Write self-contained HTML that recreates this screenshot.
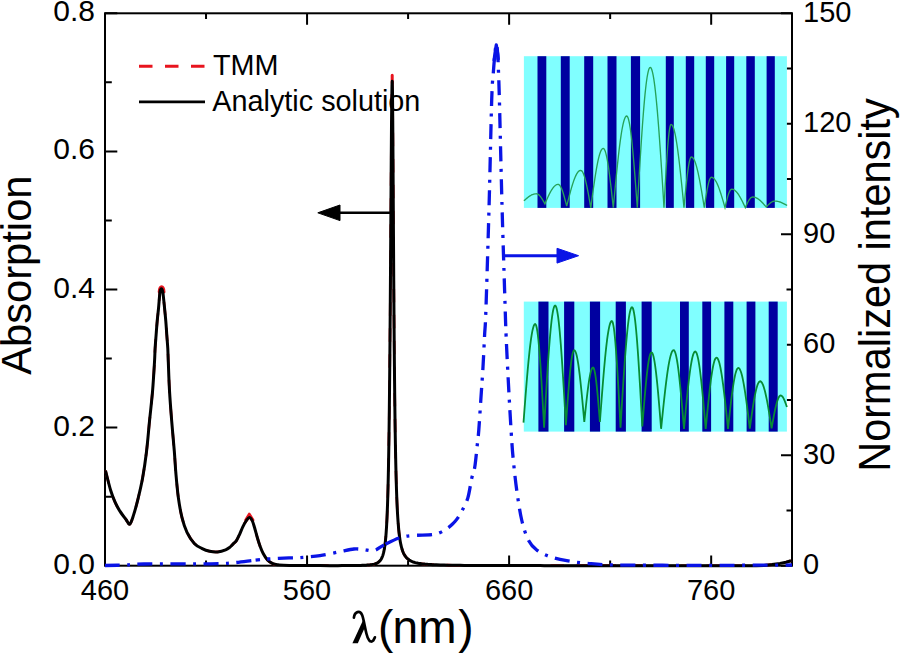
<!DOCTYPE html>
<html><head><meta charset="utf-8"><style>
html,body{margin:0;padding:0;background:#fff;}
body{width:900px;height:654px;overflow:hidden;}
svg{display:block;}
text{font-family:"Liberation Sans",sans-serif;fill:#000;}
</style></head><body>
<svg width="900" height="654" viewBox="0 0 900 654">
<rect width="900" height="654" fill="#fff"/>
<!-- frame -->
<rect x="105" y="13.3" width="687" height="552.4" fill="none" stroke="#000" stroke-width="2"/>
<path d="M105,565.7 V555.4 M105,13.3 V24.8 M206.03,565.7 V560.5 M206.03,13.3 V18.9 M307.06,565.7 V555.4 M307.06,13.3 V24.8 M408.09,565.7 V560.5 M408.09,13.3 V18.9 M509.12,565.7 V555.4 M509.12,13.3 V24.8 M610.15,565.7 V560.5 M610.15,13.3 V18.9 M711.18,565.7 V555.4 M711.18,13.3 V24.8 M105,565.7 H117.3 M105,496.65 H111.8 M105,427.6 H117.3 M105,358.55 H111.8 M105,289.5 H117.3 M105,220.45 H111.8 M105,151.4 H117.3 M105,82.35 H111.8 M105,13.3 H117.3 M792,565.7 H781 M792,510.46 H786.5 M792,455.22 H781 M792,399.98 H786.5 M792,344.74 H781 M792,289.5 H786.5 M792,234.26 H781 M792,179.02 H786.5 M792,123.78 H781 M792,68.54 H786.5 M792,13.3 H781" stroke="#000" stroke-width="2" fill="none"/>
<!-- curves -->
<path d="M105.5,470.6C106.37,473.92 109.07,485.15 110.7,490.5C112.33,495.85 113.77,499.27 115.3,502.7C116.83,506.13 118.12,508.3 119.9,511.1C121.68,513.9 124.35,517.33 126,519.5C127.65,521.67 128.53,524.87 129.8,524.1C131.07,523.33 132.2,519.23 133.6,514.9C135,510.57 136.7,504.25 138.2,498.1C139.7,491.95 141.22,485.73 142.6,478C143.98,470.27 145.35,461.17 146.5,451.7C147.65,442.23 148.48,431.38 149.5,421.2C150.52,411.02 151.77,400.47 152.6,390.6C153.43,380.73 154.08,368.98 154.5,362C154.92,355.02 154.83,353.2 155.1,348.7C155.37,344.2 155.75,339.58 156.1,335C156.45,330.42 156.78,325.78 157.2,321.2C157.62,316.62 158.15,312.28 158.6,307.5C159.05,302.72 159.52,295.55 159.9,292.5C160.28,289.45 160.57,289.75 160.9,289.2C161.23,288.65 161.57,288.65 161.9,289.2C162.23,289.75 162.47,289.45 162.9,292.5C163.33,295.55 164.02,302.72 164.5,307.5C164.98,312.28 165.42,316.62 165.8,321.2C166.18,325.78 166.47,330.42 166.8,335C167.13,339.58 167.55,344.2 167.8,348.7C168.05,353.2 168.02,355.02 168.3,362C168.58,368.98 168.93,380.73 169.5,390.6C170.07,400.47 170.9,411.13 171.7,421.2C172.5,431.27 173.6,442.28 174.3,451C175,459.72 175.22,465.67 175.9,473.5C176.58,481.33 177.38,490.65 178.4,498C179.42,505.35 180.57,511.87 182,517.6C183.43,523.33 184.95,528.1 187,532.4C189.05,536.7 191.85,540.75 194.3,543.4C196.75,546.05 199.13,546.98 201.7,548.3C204.27,549.62 207.03,550.7 209.7,551.3C212.37,551.9 215.05,552.13 217.7,551.9C220.35,551.67 223.55,550.7 225.6,549.9C227.65,549.1 228.73,548.1 230,547.1C231.27,546.1 232.13,544.97 233.2,543.9C234.27,542.83 235.33,542.3 236.4,540.7C237.47,539.1 238.53,536.62 239.6,534.3C240.67,531.98 241.72,529.02 242.8,526.8C243.88,524.58 245.02,522.53 246.1,521C247.18,519.47 248.28,517.67 249.3,517.6C250.32,517.53 251.32,518.9 252.2,520.6C253.08,522.3 253.75,524.98 254.6,527.8C255.45,530.62 256.4,534.47 257.3,537.5C258.2,540.53 259.02,543.33 260,546C260.98,548.67 261.95,551.17 263.2,553.5C264.45,555.83 265.9,558.3 267.5,560C269.1,561.7 271.02,562.9 272.8,563.7C274.58,564.5 275.47,564.52 278.2,564.8C280.93,565.08 282.23,565.27 289.2,565.4C296.17,565.53 314.87,565.57 320,565.6 L330,565.66 L334,565.65 L338,565.64 L342,565.62 L346,565.6 L350,565.57 L354,565.53 L355,565.51 L356,565.5 L357,565.48 L358,565.46 L359,565.44 L360,565.41 L361,565.39 L362,565.35 L363,565.32 L364,565.28 L365,565.23 L366,565.17 L367,565.11 L368,565.03 L369,564.94 L370,564.84 L371,564.71 L372,564.56 L373,564.38 L374,564.15 L375,563.87 L376,563.52 L377,563.08 L378,562.51 L379,561.76 L380,560.76 L381,559.39 L381.25,558.98 L381.5,558.53 L381.75,558.03 L382,557.49 L382.25,556.9 L382.5,556.26 L382.75,555.55 L383,554.76 L383.25,553.9 L383.5,552.95 L383.75,551.89 L384,550.72 L384.25,549.42 L384.5,547.96 L384.75,546.34 L385,544.51 L385.25,542.46 L385.5,540.14 L385.75,537.53 L386,534.56 L386.25,531.18 L386.5,527.33 L386.75,522.92 L387,517.85 L387.25,512.02 L387.5,505.29 L387.75,497.49 L388,488.45 L388.25,477.93 L388.5,465.69 L388.75,451.44 L389,434.86 L389.25,415.62 L389.5,393.37 L389.75,367.84 L390,338.86 L390.25,306.46 L390.5,271.03 L390.75,233.43 L391,195.14 L391.25,158.32 L391.5,125.73 L391.75,100.35 L392,84.9 L392.25,81.32 L392.5,93.39 L392.75,120.33 L393,157.33 L393.25,199.07 L393.5,241.2 L393.75,280.89 L394,316.7 L394.25,348.13 L394.5,375.28 L394.75,398.55 L395,418.4 L395.25,435.33 L395.5,449.79 L395.75,462.17 L396,472.82 L396.25,482.02 L396.5,489.99 L396.75,496.93 L397,503.01 L397.25,508.35 L397.5,513.05 L397.75,517.23 L398,520.94 L398.25,524.25 L398.5,527.22 L398.75,529.89 L399,532.29 L399.25,534.47 L399.5,536.45 L399.75,538.24 L400,539.88 L400.25,541.38 L400.5,542.76 L400.75,544.02 L401,545.18 L401.25,546.26 L401.5,547.25 L401.75,548.17 L402,549.02 L402.25,549.81 L402.5,550.55 L402.75,551.24 L403,551.88 L403.25,552.48 L403.5,553.05 L403.75,553.58 L404,554.07 L404.25,554.54 L405.25,556.15 L406.25,557.44 L407.25,558.48 L408.25,559.34 L409.25,560.06 L410.25,560.66 L411.25,561.17 L412.25,561.61 L413.25,561.98 L414.25,562.31 L415.25,562.6 L416.25,562.85 L417.25,563.07 L418.25,563.27 L419.25,563.44 L420.25,563.6 L421.25,563.74 L422.25,563.87 L423.25,563.99 L424.25,564.09 L425.25,564.19 L426.25,564.27 L427.25,564.35 L428.25,564.43 L429.25,564.49 L430.25,564.56 L431.25,564.61 L432.25,564.67 L436.25,564.85 L440.25,564.98 L444.25,565.09 L448.25,565.17 L452.25,565.24 L456.25,565.3 L460.25,565.34 L464.25,565.38 L468.25,565.41 L472.25,565.44 L476.25,565.47 L480.25,565.49 L484.25,565.5 L488.25,565.52 L492.25,565.53 L496.25,565.55 L500.25,565.56 L504.25,565.57 L508.25,565.58 L512.25,565.58 L516.25,565.59 L520.25,565.6 L524.25,565.6 L528.25,565.61 L532.25,565.62 L536.25,565.62 L540.25,565.62 L544.25,565.63 L548.25,565.63 L552.25,565.64 L556.25,565.64 L560.25,565.64 L564.25,565.64 L568.25,565.65 L572.25,565.65 L576.25,565.65 L580.25,565.65 L584.25,565.66 L588.25,565.66 L592.25,565.66 L596.25,565.66 L600.25,565.66 L604.25,565.66 L608.25,565.66 L612.25,565.67 L616.25,565.67 L620.25,565.67 L624.25,565.67 L628.25,565.67 L632.25,565.67 L636.25,565.67 L640.25,565.67 L644.25,565.67 L648.25,565.67 L652.25,565.68 L656.25,565.68 L660.25,565.68 L664.25,565.68 L668.25,565.68 L672.25,565.68 L676.25,565.68 L680.25,565.68 L684.25,565.68 L688.25,565.68 L692.25,565.68 L696.25,565.68 L700.25,565.68 L704.25,565.68 L708.25,565.68 L712.25,565.68 L716.25,565.68 L720.25,565.68 L724.25,565.68 L728.25,565.69 L732.25,565.69 L736.25,565.69 L740.25,565.69 L744.25,565.69 L748.25,565.69 L752.25,565.69 L756.25,565.69 L764,565.4 L772,564.6 L780,563.4 L786,562.2 L791,560.8" fill="none" stroke="#e8141e" stroke-width="2.6" stroke-dasharray="13.5 12.5"/>
<path d="M392.2,75.3 V83 M159.2,292 C159.6,285 163.6,285 164,292 M245.8,520 L249.3,514.2 L252.9,520" fill="none" stroke="#e8141e" stroke-width="3" stroke-linecap="round" stroke-linejoin="round"/>
<path d="M105.5,470.6C106.37,473.92 109.07,485.15 110.7,490.5C112.33,495.85 113.77,499.27 115.3,502.7C116.83,506.13 118.12,508.3 119.9,511.1C121.68,513.9 124.35,517.33 126,519.5C127.65,521.67 128.53,524.87 129.8,524.1C131.07,523.33 132.2,519.23 133.6,514.9C135,510.57 136.7,504.25 138.2,498.1C139.7,491.95 141.22,485.73 142.6,478C143.98,470.27 145.35,461.17 146.5,451.7C147.65,442.23 148.48,431.38 149.5,421.2C150.52,411.02 151.77,400.47 152.6,390.6C153.43,380.73 154.08,368.98 154.5,362C154.92,355.02 154.83,353.2 155.1,348.7C155.37,344.2 155.75,339.58 156.1,335C156.45,330.42 156.78,325.78 157.2,321.2C157.62,316.62 158.15,312.28 158.6,307.5C159.05,302.72 159.52,295.55 159.9,292.5C160.28,289.45 160.57,289.75 160.9,289.2C161.23,288.65 161.57,288.65 161.9,289.2C162.23,289.75 162.47,289.45 162.9,292.5C163.33,295.55 164.02,302.72 164.5,307.5C164.98,312.28 165.42,316.62 165.8,321.2C166.18,325.78 166.47,330.42 166.8,335C167.13,339.58 167.55,344.2 167.8,348.7C168.05,353.2 168.02,355.02 168.3,362C168.58,368.98 168.93,380.73 169.5,390.6C170.07,400.47 170.9,411.13 171.7,421.2C172.5,431.27 173.6,442.28 174.3,451C175,459.72 175.22,465.67 175.9,473.5C176.58,481.33 177.38,490.65 178.4,498C179.42,505.35 180.57,511.87 182,517.6C183.43,523.33 184.95,528.1 187,532.4C189.05,536.7 191.85,540.75 194.3,543.4C196.75,546.05 199.13,546.98 201.7,548.3C204.27,549.62 207.03,550.7 209.7,551.3C212.37,551.9 215.05,552.13 217.7,551.9C220.35,551.67 223.55,550.7 225.6,549.9C227.65,549.1 228.73,548.1 230,547.1C231.27,546.1 232.13,544.97 233.2,543.9C234.27,542.83 235.33,542.3 236.4,540.7C237.47,539.1 238.53,536.62 239.6,534.3C240.67,531.98 241.72,529.02 242.8,526.8C243.88,524.58 245.02,522.53 246.1,521C247.18,519.47 248.28,517.67 249.3,517.6C250.32,517.53 251.32,518.9 252.2,520.6C253.08,522.3 253.75,524.98 254.6,527.8C255.45,530.62 256.4,534.47 257.3,537.5C258.2,540.53 259.02,543.33 260,546C260.98,548.67 261.95,551.17 263.2,553.5C264.45,555.83 265.9,558.3 267.5,560C269.1,561.7 271.02,562.9 272.8,563.7C274.58,564.5 275.47,564.52 278.2,564.8C280.93,565.08 282.23,565.27 289.2,565.4C296.17,565.53 314.87,565.57 320,565.6 L330,565.66 L334,565.65 L338,565.64 L342,565.62 L346,565.6 L350,565.57 L354,565.53 L355,565.51 L356,565.5 L357,565.48 L358,565.46 L359,565.44 L360,565.41 L361,565.39 L362,565.35 L363,565.32 L364,565.28 L365,565.23 L366,565.17 L367,565.11 L368,565.03 L369,564.94 L370,564.84 L371,564.71 L372,564.56 L373,564.38 L374,564.15 L375,563.87 L376,563.52 L377,563.08 L378,562.51 L379,561.76 L380,560.76 L381,559.39 L381.25,558.98 L381.5,558.53 L381.75,558.03 L382,557.49 L382.25,556.9 L382.5,556.26 L382.75,555.55 L383,554.76 L383.25,553.9 L383.5,552.95 L383.75,551.89 L384,550.72 L384.25,549.42 L384.5,547.96 L384.75,546.34 L385,544.51 L385.25,542.46 L385.5,540.14 L385.75,537.53 L386,534.56 L386.25,531.18 L386.5,527.33 L386.75,522.92 L387,517.85 L387.25,512.02 L387.5,505.29 L387.75,497.49 L388,488.45 L388.25,477.93 L388.5,465.69 L388.75,451.44 L389,434.86 L389.25,415.62 L389.5,393.37 L389.75,367.84 L390,338.86 L390.25,306.46 L390.5,271.03 L390.75,233.43 L391,195.14 L391.25,158.32 L391.5,125.73 L391.75,100.35 L392,84.9 L392.25,81.32 L392.5,93.39 L392.75,120.33 L393,157.33 L393.25,199.07 L393.5,241.2 L393.75,280.89 L394,316.7 L394.25,348.13 L394.5,375.28 L394.75,398.55 L395,418.4 L395.25,435.33 L395.5,449.79 L395.75,462.17 L396,472.82 L396.25,482.02 L396.5,489.99 L396.75,496.93 L397,503.01 L397.25,508.35 L397.5,513.05 L397.75,517.23 L398,520.94 L398.25,524.25 L398.5,527.22 L398.75,529.89 L399,532.29 L399.25,534.47 L399.5,536.45 L399.75,538.24 L400,539.88 L400.25,541.38 L400.5,542.76 L400.75,544.02 L401,545.18 L401.25,546.26 L401.5,547.25 L401.75,548.17 L402,549.02 L402.25,549.81 L402.5,550.55 L402.75,551.24 L403,551.88 L403.25,552.48 L403.5,553.05 L403.75,553.58 L404,554.07 L404.25,554.54 L405.25,556.15 L406.25,557.44 L407.25,558.48 L408.25,559.34 L409.25,560.06 L410.25,560.66 L411.25,561.17 L412.25,561.61 L413.25,561.98 L414.25,562.31 L415.25,562.6 L416.25,562.85 L417.25,563.07 L418.25,563.27 L419.25,563.44 L420.25,563.6 L421.25,563.74 L422.25,563.87 L423.25,563.99 L424.25,564.09 L425.25,564.19 L426.25,564.27 L427.25,564.35 L428.25,564.43 L429.25,564.49 L430.25,564.56 L431.25,564.61 L432.25,564.67 L436.25,564.85 L440.25,564.98 L444.25,565.09 L448.25,565.17 L452.25,565.24 L456.25,565.3 L460.25,565.34 L464.25,565.38 L468.25,565.41 L472.25,565.44 L476.25,565.47 L480.25,565.49 L484.25,565.5 L488.25,565.52 L492.25,565.53 L496.25,565.55 L500.25,565.56 L504.25,565.57 L508.25,565.58 L512.25,565.58 L516.25,565.59 L520.25,565.6 L524.25,565.6 L528.25,565.61 L532.25,565.62 L536.25,565.62 L540.25,565.62 L544.25,565.63 L548.25,565.63 L552.25,565.64 L556.25,565.64 L560.25,565.64 L564.25,565.64 L568.25,565.65 L572.25,565.65 L576.25,565.65 L580.25,565.65 L584.25,565.66 L588.25,565.66 L592.25,565.66 L596.25,565.66 L600.25,565.66 L604.25,565.66 L608.25,565.66 L612.25,565.67 L616.25,565.67 L620.25,565.67 L624.25,565.67 L628.25,565.67 L632.25,565.67 L636.25,565.67 L640.25,565.67 L644.25,565.67 L648.25,565.67 L652.25,565.68 L656.25,565.68 L660.25,565.68 L664.25,565.68 L668.25,565.68 L672.25,565.68 L676.25,565.68 L680.25,565.68 L684.25,565.68 L688.25,565.68 L692.25,565.68 L696.25,565.68 L700.25,565.68 L704.25,565.68 L708.25,565.68 L712.25,565.68 L716.25,565.68 L720.25,565.68 L724.25,565.68 L728.25,565.69 L732.25,565.69 L736.25,565.69 L740.25,565.69 L744.25,565.69 L748.25,565.69 L752.25,565.69 L756.25,565.69 L764,565.4 L772,564.6 L780,563.4 L786,562.2 L791,560.8" fill="none" stroke="#000" stroke-width="3" stroke-linejoin="round"/>
<path d="M105,565.5C108.33,565.42 118.5,565.25 125,565C131.5,564.75 129.67,564.2 144,564C158.33,563.8 196.17,564 211,563.8C225.83,563.6 225.57,563.42 233,562.8C240.43,562.18 249.43,560.77 255.6,560.1" fill="none" stroke="#0a14e6" stroke-width="3.3" stroke-dasharray="15 7.5 3 7.5" stroke-dashoffset="0.5"/>
<path d="M255.6,560.1C261.77,559.43 264.43,559.17 270,558.8C275.57,558.43 284,558.1 289,557.9C294,557.7 294.83,557.98 300,557.6C305.17,557.22 313.33,556.6 320,555.6C326.67,554.6 334.33,552.7 340,551.6C345.67,550.5 350,549.33 354,549C358,548.67 360.67,549.33 364,549.6C367.33,549.87 370.67,551.37 374,550.6C377.33,549.83 379.83,547.1 384,545" fill="none" stroke="#0a14e6" stroke-width="3.3" stroke-dasharray="15 7.5 3 7.5" stroke-dashoffset="10.6"/>
<path d="M384,545C388.17,542.9 394.33,539.57 399,538C403.67,536.43 406.52,536.17 412,535.6C417.48,535.03 427.18,535.12 431.9,534.6C436.62,534.08 437.63,533.62 440.3,532.5C442.97,531.38 445.82,529.35 447.9,527.9C449.98,526.45 451.27,525.3 452.8,523.8C454.33,522.3 455.5,521.18 457.1,518.9C458.7,516.62 460.6,513.63 462.4,510.1C464.2,506.57 466.35,502.97 467.9,497.7C469.45,492.43 470.57,483.53 471.7,478.5C472.83,473.47 473.78,473 474.7,467.5C475.62,462 476.52,451.75 477.2,445.5C477.88,439.25 478.17,438.08 478.8,430C479.43,421.92 480.3,407.5 481,397C481.7,386.5 482.4,377.33 483,367C483.6,356.67 484.12,344.5 484.6,335C485.08,325.5 485.15,331.67 485.9,310C486.65,288.33 488.13,240 489.1,205C490.07,170 491,122 491.7,100C492.4,78 492.77,80.67 493.3,73C493.83,65.33 494.4,58.83 494.9,54C495.4,49.17 495.83,44 496.3,44C496.77,44 497.32,48.83 497.7,54C498.08,59.17 498.32,67.33 498.6,75C498.88,82.67 498.83,78.33 499.4,100C499.97,121.67 501.13,173.33 502,205C502.87,236.67 503.9,267.83 504.6,290C505.3,312.17 505.45,320.33 506.2,338C506.95,355.67 508.18,379 509.1,396C510.02,413 511,429.33 511.7,440C512.4,450.67 512.47,451.67 513.3,460C514.13,468.33 515.3,480 516.7,490C518.1,500 519.77,511.67 521.7,520C523.63,528.33 525.8,535 528.3,540C530.8,545 533.08,547.22 536.7,550C540.32,552.78 545,554.92 550,556.7C555,558.48 560.58,559.6 566.7,560.7C572.82,561.8 578.37,562.58 586.7,563.3C595.03,564.02 597.82,564.67 616.7,565C635.58,565.33 676.12,565.27 700,565.3C723.88,565.33 744.67,565.25 760,565.2C775.33,565.15 786.67,565.03 792,565" fill="none" stroke="#0a14e6" stroke-width="3.3" stroke-dasharray="15 7.5 3 7.5" stroke-dashoffset="31.14"/>
<path d="M494,61 L494.9,54 L496.3,45 L497.7,54 L498.3,60" fill="none" stroke="#0a14e6" stroke-width="3.3" stroke-linejoin="round"/>
<!-- arrows -->
<path d="M339,212.8 H391" stroke="#000" stroke-width="2.6"/>
<path d="M317.8,212.8 L340,205 L340,220.6 Z" fill="#000" stroke="#000" stroke-width="1" stroke-linejoin="round"/>
<path d="M502.2,255.7 H558" stroke="#0a14e6" stroke-width="3"/>
<path d="M578.6,255.7 L557,248.3 L557,263.1 Z" fill="#0a14e6" stroke="#0a14e6" stroke-width="1" stroke-linejoin="round"/>
<!-- insets -->
<rect x="523.9" y="56.2" width="263" height="151.7" fill="#80ffff"/>
<g fill="#0000a0"><rect x="537.5" y="56.2" width="8.8" height="151.7"/><rect x="560.8" y="56.2" width="8.9" height="151.7"/><rect x="584.2" y="56.2" width="9" height="151.7"/><rect x="607.5" y="56.2" width="9" height="151.7"/><rect x="630.9" y="56.2" width="9.2" height="151.7"/><rect x="665.8" y="56.2" width="8" height="151.7"/><rect x="685.8" y="56.2" width="8.4" height="151.7"/><rect x="705.8" y="56.2" width="8.4" height="151.7"/><rect x="726.1" y="56.2" width="8.1" height="151.7"/><rect x="746.3" y="56.2" width="8.5" height="151.7"/><rect x="766.6" y="56.2" width="8.2" height="151.7"/></g>
<path d="M523.9,200.8 L524.42,200.34 L524.93,199.89 L525.45,199.43 L525.97,198.99 L526.48,198.55 L527,198.12 L527.52,197.7 L528.03,197.3 L528.55,196.91 L529.07,196.54 L529.58,196.18 L530.1,195.85 L530.62,195.54 L531.13,195.25 L531.65,194.98 L532.17,194.74 L532.68,194.52 L533.2,194.33 L533.72,194.17 L534.23,194.04 L534.75,193.93 L535.27,193.86 L535.78,193.81 L536.3,193.8 L536.81,193.84 L537.31,193.97 L537.82,194.19 L538.32,194.48 L538.83,194.86 L539.34,195.31 L539.84,195.84 L540.35,196.44 L540.85,197.1 L541.36,197.81 L541.86,198.58 L542.37,199.4 L542.88,200.25 L543.38,201.14 L543.89,202.04 L544.39,202.97 L544.9,203.9 L545.41,202.72 L545.92,201.55 L546.42,200.39 L546.93,199.23 L547.44,198.1 L547.95,196.99 L548.45,195.9 L548.96,194.84 L549.47,193.81 L549.98,192.82 L550.48,191.87 L550.99,190.97 L551.5,190.11 L552.01,189.3 L552.52,188.55 L553.02,187.85 L553.53,187.21 L554.04,186.63 L554.55,186.12 L555.05,185.67 L555.56,185.28 L556.07,184.97 L556.58,184.72 L557.08,184.54 L557.59,184.44 L558.1,184.4 L558.61,184.49 L559.11,184.77 L559.62,185.23 L560.12,185.87 L560.63,186.69 L561.14,187.67 L561.64,188.8 L562.15,190.09 L562.65,191.51 L563.16,193.06 L563.66,194.72 L564.17,196.48 L564.68,198.32 L565.18,200.23 L565.69,202.19 L566.19,204.19 L566.7,206.2 L567.2,204.19 L567.7,202.19 L568.2,200.2 L568.7,198.23 L569.2,196.29 L569.7,194.38 L570.2,192.5 L570.7,190.67 L571.2,188.88 L571.7,187.15 L572.2,185.48 L572.7,183.88 L573.2,182.34 L573.7,180.89 L574.2,179.51 L574.7,178.21 L575.2,177 L575.7,175.89 L576.2,174.87 L576.7,173.95 L577.2,173.13 L577.7,172.41 L578.2,171.8 L578.7,171.3 L579.2,170.91 L579.7,170.63 L580.2,170.46 L580.7,170.4 L581.21,170.52 L581.71,170.86 L582.22,171.43 L582.72,172.23 L583.23,173.25 L583.73,174.48 L584.24,175.91 L584.74,177.54 L585.25,179.36 L585.75,181.35 L586.25,183.51 L586.76,185.82 L587.26,188.26 L587.77,190.82 L588.27,193.49 L588.78,196.24 L589.28,199.07 L589.79,201.95 L590.29,204.87 L590.8,207.8 L591.32,203.92 L591.83,200.05 L592.35,196.21 L592.87,192.43 L593.38,188.71 L593.9,185.07 L594.42,181.53 L594.93,178.1 L595.45,174.8 L595.97,171.64 L596.48,168.63 L597,165.8 L597.52,163.14 L598.03,160.67 L598.55,158.41 L599.07,156.36 L599.58,154.53 L600.1,152.92 L600.62,151.55 L601.13,150.42 L601.65,149.54 L602.17,148.91 L602.68,148.53 L603.2,148.4 L603.71,148.58 L604.21,149.13 L604.72,150.04 L605.22,151.31 L605.73,152.92 L606.23,154.87 L606.74,157.15 L607.24,159.74 L607.75,162.63 L608.25,165.8 L608.75,169.22 L609.26,172.89 L609.76,176.76 L610.27,180.83 L610.77,185.07 L611.28,189.44 L611.78,193.93 L612.29,198.51 L612.79,203.14 L613.3,207.8 L613.82,202.26 L614.33,196.73 L614.85,191.25 L615.36,185.83 L615.88,180.49 L616.39,175.25 L616.91,170.12 L617.42,165.14 L617.94,160.31 L618.45,155.65 L618.97,151.19 L619.48,146.93 L620,142.89 L620.52,139.09 L621.03,135.54 L621.55,132.25 L622.06,129.24 L622.58,126.52 L623.09,124.09 L623.61,121.97 L624.12,120.16 L624.64,118.67 L625.15,117.5 L625.67,116.67 L626.18,116.17 L626.7,116 L627.2,116.26 L627.71,117.02 L628.21,118.3 L628.72,120.07 L629.22,122.33 L629.73,125.07 L630.23,128.27 L630.74,131.92 L631.24,135.98 L631.75,140.45 L632.25,145.3 L632.76,150.49 L633.26,156 L633.77,161.8 L634.27,167.86 L634.78,174.13 L635.28,180.6 L635.79,187.22 L636.29,193.95 L636.8,200.75 L637.3,207.6 L637.82,198.8 L638.33,190.03 L638.85,181.33 L639.36,172.73 L639.88,164.28 L640.4,155.99 L640.91,147.91 L641.43,140.06 L641.94,132.48 L642.46,125.19 L642.98,118.23 L643.49,111.63 L644.01,105.4 L644.52,99.57 L645.04,94.18 L645.56,89.23 L646.07,84.74 L646.59,80.74 L647.1,77.25 L647.62,74.26 L648.14,71.8 L648.65,69.88 L649.17,68.51 L649.68,67.68 L650.2,67.4 L650.71,67.64 L651.22,68.35 L651.73,69.53 L652.24,71.18 L652.76,73.29 L653.27,75.86 L653.78,78.87 L654.29,82.31 L654.8,86.18 L655.31,90.46 L655.82,95.14 L656.33,100.2 L656.84,105.62 L657.36,111.39 L657.87,117.48 L658.38,123.88 L658.89,130.56 L659.4,137.5 L659.91,144.68 L660.42,152.07 L660.93,159.65 L661.44,167.39 L661.96,175.27 L662.47,183.25 L662.98,191.32 L663.49,199.45 L664,207.6 L664.51,198.28 L665.01,189.09 L665.52,180.12 L666.03,171.5 L666.54,163.33 L667.04,155.73 L667.55,148.77 L668.06,142.55 L668.56,137.15 L669.07,132.64 L669.58,129.07 L670.09,126.49 L670.59,124.92 L671.1,124.4 L671.62,124.56 L672.13,125.06 L672.65,125.87 L673.16,127.01 L673.68,128.47 L674.2,130.24 L674.71,132.32 L675.23,134.69 L675.74,137.35 L676.26,140.29 L676.78,143.49 L677.29,146.95 L677.81,150.65 L678.32,154.57 L678.84,158.7 L679.36,163.02 L679.87,167.52 L680.39,172.18 L680.9,176.97 L681.42,181.89 L681.94,186.91 L682.45,192.01 L682.97,197.17 L683.48,202.38 L684,207.6 L684.53,201.93 L685.06,196.34 L685.59,190.89 L686.11,185.65 L686.64,180.68 L687.17,176.05 L687.7,171.82 L688.23,168.04 L688.76,164.76 L689.29,162.01 L689.81,159.84 L690.34,158.27 L690.87,157.32 L691.4,157 L691.92,157.1 L692.43,157.4 L692.95,157.9 L693.46,158.59 L693.98,159.48 L694.5,160.55 L695.01,161.82 L695.53,163.26 L696.04,164.88 L696.56,166.66 L697.08,168.61 L697.59,170.71 L698.11,172.96 L698.62,175.35 L699.14,177.86 L699.66,180.49 L700.17,183.22 L700.69,186.06 L701.2,188.97 L701.72,191.96 L702.24,195.02 L702.75,198.12 L703.27,201.26 L703.78,204.42 L704.3,207.6 L704.81,204.21 L705.31,200.86 L705.82,197.59 L706.33,194.45 L706.84,191.48 L707.34,188.71 L707.85,186.17 L708.36,183.91 L708.86,181.94 L709.37,180.3 L709.88,179 L710.39,178.06 L710.89,177.49 L711.4,177.3 L711.9,177.35 L712.41,177.5 L712.91,177.76 L713.41,178.12 L713.92,178.57 L714.42,179.13 L714.93,179.78 L715.43,180.52 L715.93,181.36 L716.44,182.28 L716.94,183.3 L717.44,184.39 L717.95,185.56 L718.45,186.81 L718.96,188.12 L719.46,189.51 L719.96,190.95 L720.47,192.45 L720.97,194 L721.47,195.6 L721.98,197.24 L722.48,198.91 L722.99,200.61 L723.49,202.34 L723.99,204.08 L724.5,205.84 L725,207.6 L725.52,205.38 L726.03,203.2 L726.55,201.08 L727.06,199.05 L727.58,197.15 L728.09,195.4 L728.61,193.83 L729.12,192.46 L729.64,191.31 L730.15,190.4 L730.67,189.73 L731.18,189.33 L731.7,189.2 L732.2,189.23 L732.71,189.32 L733.21,189.48 L733.71,189.7 L734.22,189.97 L734.72,190.31 L735.23,190.7 L735.73,191.16 L736.23,191.67 L736.74,192.23 L737.24,192.84 L737.74,193.5 L738.25,194.22 L738.75,194.97 L739.26,195.77 L739.76,196.61 L740.26,197.49 L740.77,198.4 L741.27,199.34 L741.77,200.31 L742.28,201.31 L742.78,202.32 L743.29,203.36 L743.79,204.4 L744.29,205.46 L744.8,206.53 L745.3,207.6 L745.83,206.41 L746.36,205.24 L746.89,204.1 L747.41,203 L747.94,201.96 L748.47,200.99 L749,200.1 L749.53,199.31 L750.06,198.62 L750.59,198.05 L751.11,197.59 L751.64,197.27 L752.17,197.07 L752.7,197 L753.2,197.02 L753.7,197.07 L754.2,197.15 L754.7,197.27 L755.2,197.42 L755.7,197.6 L756.2,197.82 L756.7,198.06 L757.2,198.34 L757.7,198.65 L758.2,198.98 L758.7,199.34 L759.2,199.73 L759.7,200.14 L760.2,200.57 L760.7,201.03 L761.2,201.5 L761.7,202 L762.2,202.51 L762.7,203.04 L763.2,203.58 L763.7,204.13 L764.2,204.69 L764.7,205.26 L765.2,205.84 L765.7,206.42 L766.2,207 L766.71,206.46 L767.22,205.92 L767.74,205.39 L768.25,204.87 L768.76,204.37 L769.27,203.89 L769.78,203.44 L770.29,203.03 L770.81,202.64 L771.32,202.29 L771.83,201.98 L772.34,201.72 L772.85,201.5 L773.36,201.33 L773.88,201.2 L774.39,201.13 L774.9,201.1 L775.41,201.11 L775.92,201.14 L776.42,201.18 L776.93,201.25 L777.44,201.33 L777.95,201.43 L778.46,201.55 L778.97,201.69 L779.48,201.84 L779.98,202.01 L780.49,202.19 L781,202.39 L781.51,202.6 L782.02,202.82 L782.52,203.06 L783.03,203.3 L783.54,203.55 L784.05,203.82 L784.56,204.09 L785.07,204.36 L785.58,204.64 L786.08,204.93 L786.59,205.21 L787.1,205.5" fill="none" stroke="#26a258" stroke-width="1.35"/>
<rect x="523.8" y="301.6" width="263.1" height="130" fill="#80ffff"/>
<g fill="#0000a0"><rect x="538.4" y="301.6" width="10.1" height="130"/><rect x="564.1" y="301.6" width="10.2" height="130"/><rect x="589.9" y="301.6" width="10.2" height="130"/><rect x="615.7" y="301.6" width="10.2" height="130"/><rect x="641.6" y="301.6" width="10.1" height="130"/><rect x="680" y="301.6" width="8.8" height="130"/><rect x="702.3" y="301.6" width="8.8" height="130"/><rect x="724.4" y="301.6" width="8.9" height="130"/><rect x="746.6" y="301.6" width="8.8" height="130"/><rect x="768.7" y="301.6" width="9" height="130"/></g>
<path d="M523.5,422.6 L524.01,415.87 L524.52,409.17 L525.03,402.54 L525.53,396 L526.04,389.58 L526.55,383.32 L527.06,377.24 L527.57,371.37 L528.08,365.74 L528.59,360.37 L529.1,355.3 L529.6,350.54 L530.11,346.11 L530.62,342.05 L531.13,338.35 L531.64,335.05 L532.15,332.16 L532.66,329.69 L533.17,327.66 L533.67,326.06 L534.18,324.92 L534.69,324.23 L535.2,324 L535.72,324.44 L536.25,325.76 L536.77,327.95 L537.29,331 L537.82,334.86 L538.34,339.52 L538.86,344.93 L539.39,351.04 L539.91,357.81 L540.44,365.17 L540.96,373.06 L541.48,381.42 L542.01,390.18 L542.53,399.25 L543.05,408.56 L543.58,418.04 L544.1,427.6 L544.6,418.9 L545.1,410.24 L545.6,401.67 L546.1,393.23 L546.6,384.97 L547.1,376.92 L547.6,369.13 L548.1,361.64 L548.6,354.49 L549.1,347.71 L549.6,341.33 L550.1,335.4 L550.6,329.93 L551.1,324.97 L551.6,320.52 L552.1,316.62 L552.6,313.29 L553.1,310.54 L553.6,308.39 L554.1,306.84 L554.6,305.91 L555.1,305.6 L555.61,305.93 L556.13,306.94 L556.64,308.6 L557.16,310.92 L557.67,313.87 L558.19,317.45 L558.7,321.64 L559.21,326.4 L559.73,331.71 L560.24,337.55 L560.76,343.88 L561.27,350.67 L561.79,357.87 L562.3,365.45 L562.81,373.36 L563.33,381.57 L563.84,390.02 L564.36,398.66 L564.87,407.46 L565.39,416.35 L565.9,425.3 L566.42,417.95 L566.94,410.67 L567.46,403.53 L567.98,396.6 L568.49,389.95 L569.01,383.63 L569.53,377.72 L570.05,372.27 L570.57,367.32 L571.09,362.94 L571.61,359.16 L572.12,356.01 L572.64,353.53 L573.16,351.74 L573.68,350.66 L574.2,350.3 L574.71,350.52 L575.21,351.18 L575.72,352.28 L576.22,353.8 L576.73,355.75 L577.23,358.1 L577.74,360.85 L578.24,363.97 L578.75,367.45 L579.25,371.27 L579.75,375.4 L580.26,379.81 L580.76,384.49 L581.27,389.39 L581.77,394.5 L582.28,399.77 L582.78,405.19 L583.29,410.7 L583.79,416.28 L584.3,421.9 L584.81,416.88 L585.32,411.9 L585.84,407.01 L586.35,402.25 L586.86,397.65 L587.37,393.26 L587.88,389.12 L588.39,385.25 L588.91,381.7 L589.42,378.49 L589.93,375.65 L590.44,373.2 L590.95,371.17 L591.46,369.58 L591.98,368.43 L592.49,367.73 L593,367.5 L593.53,367.9 L594.06,369.08 L594.59,371.04 L595.12,373.73 L595.65,377.13 L596.18,381.18 L596.72,385.83 L597.25,391 L597.78,396.62 L598.31,402.61 L598.84,408.88 L599.37,415.34 L599.9,421.9 L600.42,415.01 L600.93,408.16 L601.45,401.37 L601.97,394.68 L602.49,388.11 L603,381.7 L603.52,375.48 L604.04,369.47 L604.56,363.71 L605.07,358.22 L605.59,353.03 L606.11,348.16 L606.63,343.63 L607.14,339.47 L607.66,335.69 L608.18,332.31 L608.7,329.35 L609.21,326.83 L609.73,324.74 L610.25,323.11 L610.77,321.94 L611.28,321.24 L611.8,321 L612.31,321.45 L612.82,322.82 L613.34,325.07 L613.85,328.2 L614.36,332.18 L614.87,336.97 L615.38,342.53 L615.89,348.82 L616.41,355.78 L616.92,363.36 L617.43,371.48 L617.94,380.08 L618.45,389.09 L618.96,398.43 L619.48,408.01 L619.99,417.76 L620.5,427.6 L621,419.38 L621.5,411.21 L622,403.1 L622.5,395.12 L623,387.28 L623.5,379.63 L624,372.21 L624.5,365.04 L625,358.17 L625.5,351.62 L626,345.42 L626.5,339.61 L627,334.2 L627.5,329.24 L628,324.73 L628.5,320.7 L629,317.17 L629.5,314.15 L630,311.66 L630.5,309.72 L631,308.32 L631.5,307.48 L632,307.2 L632.51,307.57 L633.03,308.67 L633.54,310.5 L634.06,313.04 L634.58,316.28 L635.09,320.2 L635.61,324.78 L636.12,329.98 L636.63,335.78 L637.15,342.14 L637.66,349.02 L638.18,356.38 L638.69,364.17 L639.21,372.34 L639.72,380.85 L640.24,389.63 L640.75,398.65 L641.27,407.84 L641.78,417.14 L642.3,426.5 L642.81,420.04 L643.32,413.63 L643.83,407.32 L644.34,401.16 L644.86,395.18 L645.37,389.45 L645.88,384 L646.39,378.87 L646.9,374.1 L647.41,369.74 L647.92,365.8 L648.43,362.33 L648.94,359.34 L649.46,356.87 L649.97,354.92 L650.48,353.53 L650.99,352.68 L651.5,352.4 L652.01,352.66 L652.51,353.44 L653.02,354.74 L653.52,356.54 L654.03,358.83 L654.53,361.61 L655.04,364.84 L655.54,368.51 L656.05,372.59 L656.55,377.06 L657.06,381.87 L657.56,387.01 L658.07,392.44 L658.57,398.11 L659.08,403.99 L659.58,410.04 L660.09,416.22 L660.59,422.49 L661.1,428.8 L661.6,423.86 L662.1,418.94 L662.6,414.05 L663.1,409.23 L663.6,404.48 L664.1,399.83 L664.6,395.29 L665.1,390.89 L665.6,386.63 L666.1,382.54 L666.6,378.63 L667.1,374.93 L667.6,371.43 L668.1,368.16 L668.6,365.13 L669.1,362.35 L669.6,359.83 L670.1,357.59 L670.6,355.63 L671.1,353.95 L671.6,352.57 L672.1,351.49 L672.6,350.72 L673.1,350.26 L673.6,350.1 L674.12,350.34 L674.64,351.07 L675.16,352.28 L675.68,353.96 L676.2,356.11 L676.72,358.7 L677.24,361.73 L677.76,365.17 L678.28,369 L678.8,373.21 L679.32,377.76 L679.84,382.62 L680.36,387.77 L680.88,393.18 L681.4,398.81 L681.92,404.62 L682.44,410.58 L682.96,416.66 L683.48,422.81 L684,429 L684.51,423.47 L685.02,417.97 L685.53,412.53 L686.04,407.17 L686.55,401.92 L687.05,396.81 L687.56,391.86 L688.07,387.1 L688.58,382.56 L689.09,378.25 L689.6,374.2 L690.11,370.43 L690.62,366.96 L691.13,363.8 L691.64,360.98 L692.15,358.5 L692.65,356.39 L693.16,354.64 L693.67,353.27 L694.18,352.29 L694.69,351.7 L695.2,351.5 L695.7,351.72 L696.2,352.37 L696.7,353.44 L697.2,354.94 L697.7,356.86 L698.2,359.17 L698.7,361.88 L699.2,364.97 L699.7,368.41 L700.2,372.19 L700.7,376.29 L701.2,380.68 L701.7,385.34 L702.2,390.25 L702.7,395.37 L703.2,400.69 L703.7,406.16 L704.2,411.75 L704.7,417.45 L705.2,423.21 L705.7,429 L706.21,423.67 L706.73,418.37 L707.24,413.13 L707.76,407.98 L708.27,402.95 L708.79,398.06 L709.3,393.35 L709.81,388.84 L710.33,384.55 L710.84,380.5 L711.36,376.73 L711.87,373.26 L712.39,370.09 L712.9,367.25 L713.41,364.76 L713.93,362.63 L714.44,360.87 L714.96,359.49 L715.47,358.5 L715.99,357.9 L716.5,357.7 L717,357.87 L717.5,358.36 L718,359.19 L718.5,360.34 L719,361.81 L719.5,363.59 L720,365.67 L720.5,368.05 L721,370.71 L721.5,373.65 L722,376.84 L722.5,380.27 L723,383.93 L723.5,387.8 L724,391.86 L724.5,396.09 L725,400.47 L725.5,404.99 L726,409.62 L726.5,414.33 L727,419.12 L727.5,423.95 L728,428.8 L728.51,424.03 L729.03,419.29 L729.54,414.61 L730.06,410.01 L730.58,405.53 L731.09,401.2 L731.61,397.03 L732.12,393.06 L732.63,389.31 L733.15,385.81 L733.66,382.57 L734.18,379.61 L734.69,376.96 L735.21,374.63 L735.72,372.63 L736.24,370.98 L736.75,369.68 L737.27,368.75 L737.78,368.19 L738.3,368 L738.8,368.14 L739.3,368.56 L739.8,369.27 L740.3,370.25 L740.8,371.5 L741.3,373.02 L741.8,374.79 L742.3,376.82 L742.8,379.09 L743.3,381.59 L743.8,384.31 L744.3,387.24 L744.8,390.36 L745.3,393.65 L745.8,397.11 L746.3,400.72 L746.8,404.46 L747.3,408.31 L747.8,412.25 L748.3,416.27 L748.8,420.35 L749.3,424.46 L749.8,428.6 L750.31,424.89 L750.83,421.2 L751.34,417.56 L751.86,413.98 L752.38,410.5 L752.89,407.13 L753.4,403.89 L753.92,400.8 L754.43,397.88 L754.95,395.15 L755.47,392.63 L755.98,390.33 L756.5,388.27 L757.01,386.46 L757.52,384.9 L758.04,383.62 L758.56,382.61 L759.07,381.88 L759.59,381.45 L760.1,381.3 L760.6,381.41 L761.1,381.74 L761.6,382.28 L762.1,383.04 L762.6,384.01 L763.1,385.19 L763.6,386.57 L764.1,388.14 L764.6,389.9 L765.1,391.84 L765.6,393.95 L766.1,396.22 L766.6,398.64 L767.1,401.2 L767.6,403.88 L768.1,406.68 L768.6,409.58 L769.1,412.56 L769.6,415.62 L770.1,418.74 L770.6,421.9 L771.1,425.09 L771.6,428.3 L772.11,425.44 L772.61,422.6 L773.12,419.81 L773.62,417.08 L774.13,414.44 L774.63,411.9 L775.14,409.49 L775.64,407.22 L776.15,405.11 L776.66,403.17 L777.16,401.43 L777.67,399.89 L778.17,398.57 L778.68,397.48 L779.18,396.62 L779.69,396 L780.19,395.62 L780.7,395.5 L781.22,395.6 L781.73,395.89 L782.25,396.38 L782.77,397.04 L783.28,397.88 L783.8,398.87 L784.32,400 L784.83,401.25 L785.35,402.6 L785.87,404.02 L786.38,405.5 L786.9,407" fill="none" stroke="#078c34" stroke-width="1.8"/>
<!-- legend -->
<path d="M139,66.3 H206" stroke="#e8141e" stroke-width="3" stroke-dasharray="13.5 12.5"/>
<path d="M139,101.9 H205" stroke="#000" stroke-width="2.6"/>
<g font-size="28.8"><text x="213" y="75.2">TMM</text><text x="212.3" y="110.8">Analytic solution</text></g>
<!-- tick labels -->
<g font-size="29"><text x="95" y="573.7" text-anchor="end" font-size="30">0.0</text><text x="95" y="435.6" text-anchor="end" font-size="30">0.2</text><text x="95" y="297.5" text-anchor="end" font-size="30">0.4</text><text x="95" y="159.4" text-anchor="end" font-size="30">0.6</text><text x="95" y="21.3" text-anchor="end" font-size="30">0.8</text><text x="803" y="574">0</text><text x="803" y="463.52">30</text><text x="803" y="353.04">60</text><text x="803" y="242.56">90</text><text x="803" y="132.08">120</text><text x="803" y="21.6">150</text><text x="105" y="600" text-anchor="middle">460</text><text x="307.06" y="600" text-anchor="middle">560</text><text x="509.12" y="600" text-anchor="middle">660</text><text x="711.18" y="600" text-anchor="middle">760</text></g>
<!-- axis titles -->
<text font-size="41.7" transform="translate(31.2,275.15) rotate(-90) scale(1,1.035)" text-anchor="middle">Absorption</text>
<text font-size="41.5" transform="translate(890.1,285) rotate(-90) scale(1,1.05)" text-anchor="middle">Normalized intensity</text>
<path d="M353.9,617.6 C354.6,611.8 359.8,609.6 362.2,615.2 C363.6,618.8 364.6,626 366.4,633.5 C367.8,639.5 370.2,643.4 373.2,640.6 L374.9,637.3" fill="none" stroke="#000" stroke-width="2.7" stroke-linecap="round"/>
<path d="M352.4,643.3 L357.8,643.3 L365,627 L362.8,620.8 Z" fill="#000"/>
<text font-size="46" x="352" y="643.4"><tspan fill="none">&#955;</tspan><tspan dx="2.9">(</tspan><tspan dx="-0.7">n</tspan><tspan dx="0.2">m</tspan><tspan dx="1.55">)</tspan></text>
</svg>
</body></html>
